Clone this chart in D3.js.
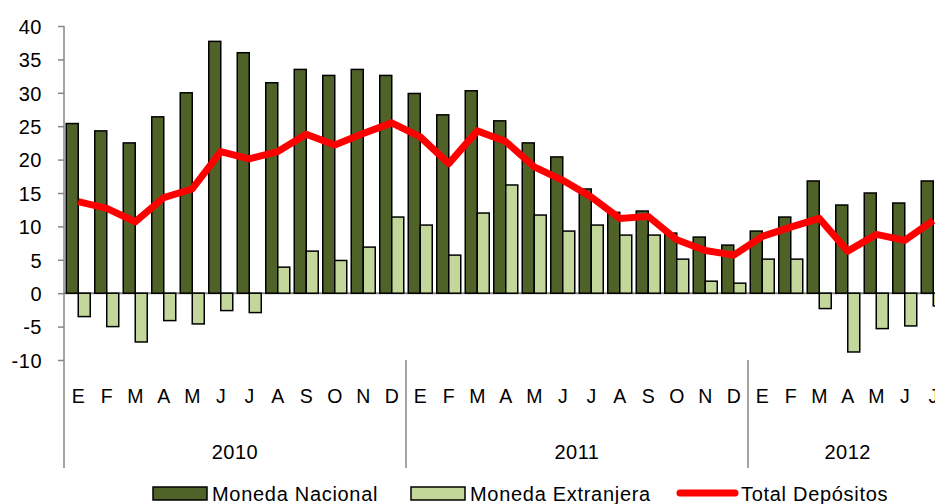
<!DOCTYPE html>
<html>
<head>
<meta charset="utf-8">
<script src="https://cdn.jsdelivr.net/npm/d3@7"></script>
<style>
  body { margin: 0; background: #fff; }
  text { font-family: "Liberation Sans", Arial, sans-serif; fill: #000; }
</style>
</head>
<body>
<div id="chart"></div>
<script>
// data (growth rates, %)
var years = ["2010", "2011", "2012"];
var monthLetters = ["E","F","M","A","M","J","J","A","S","O","N","D"];
var monthCounts = [12, 12, 7];

var nacional = [25.4,24.3,22.5,26.4,30.0,37.7,36.0,31.5,33.5,32.6,33.5,32.6,
                29.9,26.7,30.3,25.8,22.5,20.4,15.6,12.1,12.3,9.0,8.4,7.2,
                9.3,11.4,16.8,13.2,15.0,13.5,16.8];
var extranjera = [-3.5,-5.0,-7.3,-4.1,-4.6,-2.6,-2.9,3.9,6.3,4.9,6.9,11.4,
                  10.2,5.7,12.0,16.2,11.7,9.3,10.2,8.7,8.7,5.1,1.8,1.5,
                  5.1,5.1,-2.3,-8.8,-5.3,-4.9,-1.9];
var total = [13.7,12.7,10.7,14.3,15.6,21.2,20.1,21.2,23.8,22.2,23.9,25.5,
             23.4,19.4,24.3,22.7,18.9,16.9,14.4,11.2,11.5,8.0,6.4,5.7,
             8.5,9.9,11.2,6.3,8.8,7.9,10.9];
var yTicks = [-10,-5,0,5,10,15,20,25,30,35,40];
var seriesNames = ["Moneda Nacional", "Moneda Extranjera", "Total Depósitos"];

// build month list
var months = [];
years.forEach(function(y, i) {
  for (var m = 0; m < monthCounts[i]; m++) {
    months.push({ key: y + "-" + m, year: y, letter: monthLetters[m] });
  }
});

var width = 935, height = 504;
var colNac = "#4F6228", colExt = "#C4D79B", colTot = "#FF0000";

var svg = d3.select("#chart").append("svg")
  .attr("width", width)
  .attr("height", height);

var x = d3.scaleBand()
  .domain(months.map(function(d) { return d.key; }))
  .range([64, 64 + 28.5 * months.length])
  .padding(0);

var xSub = d3.scaleBand()
  .domain(["nac", "ext"])
  .range([0, x.bandwidth()])
  .paddingInner(0)
  .paddingOuter(0.1875);

var y = d3.scaleLinear()
  .domain([-10, 40])
  .range([360, 26]);

// zero line
svg.append("line")
  .attr("x1", 64).attr("x2", width)
  .attr("y1", y(0)).attr("y2", y(0))
  .style("stroke", "#868686")
  .style("stroke-width", 2);

// bars
function drawBars(vals, sub, color) {
  svg.append("g").selectAll("rect")
    .data(vals)
    .enter().append("rect")
    .attr("x", function(d, i) { return x(months[i].key) + xSub(sub); })
    .attr("width", xSub.bandwidth())
    .attr("y", function(d) { return y(Math.max(0, d)); })
    .attr("height", function(d) { return Math.abs(y(d) - y(0)); })
    .style("fill", color)
    .style("stroke", "#000")
    .style("stroke-width", 1.5);
}
drawBars(nacional, "nac", colNac);
drawBars(extranjera, "ext", colExt);

// total line
var line = d3.line()
  .x(function(d, i) { return x(months[i].key) + x.bandwidth() / 2; })
  .y(function(d) { return y(d); });

svg.append("path")
  .datum(total)
  .attr("d", line)
  .style("fill", "none")
  .style("stroke", colTot)
  .style("stroke-width", 7)
  .style("stroke-linejoin", "round");

// y axis
var yAxis = svg.append("g")
  .attr("transform", "translate(64,0)")
  .call(d3.axisLeft(y).tickValues(yTicks).tickSize(6).tickPadding(16)
    .tickFormat(function(d) { return String(d); }));
yAxis.select(".domain").remove();
yAxis.selectAll(".tick line").style("stroke", "#868686").style("stroke-width", 1.5);
yAxis.selectAll("text")
  .style("font-size", "20px")
  .style("font-family", "'Liberation Sans', Arial, sans-serif")
  .style("letter-spacing", "0.5px")
  .attr("dy", "0.36em");
svg.append("line")
  .attr("x1", 64).attr("x2", 64)
  .attr("y1", 26).attr("y2", 468)
  .style("stroke", "#868686")
  .style("stroke-width", 1.5);

// month letters
svg.append("g").selectAll("text")
  .data(months)
  .enter().append("text")
  .attr("x", function(d) { return x(d.key) + x.bandwidth() / 2; })
  .attr("y", 403)
  .attr("text-anchor", "middle")
  .style("font-size", "19.5px")
  .text(function(d) { return d.letter; });

// year separators and labels
var start = 0;
years.forEach(function(yr, i) {
  var x0 = x(months[start].key);
  var x1 = x0 + x.step() * monthCounts[i];
  if (i > 0) {
    svg.append("line")
      .attr("x1", x0).attr("x2", x0)
      .attr("y1", 360).attr("y2", 468)
      .style("stroke", "#868686")
      .style("stroke-width", 1.5);
  }
  var cx = i < years.length - 1 ? (x0 + x1) / 2 : x0 + x.step() * 3.5;
  svg.append("text")
    .attr("x", cx)
    .attr("y", 459)
    .attr("text-anchor", "middle")
    .style("font-size", "20px")
    .style("letter-spacing", "0.5px")
    .text(yr);
  start += monthCounts[i];
});

// legend
var legend = svg.append("g");
var legX = [153, 411, 680];
var legTextX = [212, 470, 741];
[colNac, colExt].forEach(function(c, i) {
  legend.append("rect")
    .attr("x", legX[i]).attr("y", 487)
    .attr("width", 54).attr("height", 13)
    .style("fill", c)
    .style("stroke", "#000")
    .style("stroke-width", 1.5);
});
legend.append("line")
  .attr("x1", legX[2]).attr("x2", legX[2] + 55)
  .attr("y1", 493).attr("y2", 493)
  .style("stroke", colTot)
  .style("stroke-width", 7)
  .style("stroke-linecap", "round");
seriesNames.forEach(function(n, i) {
  legend.append("text")
    .attr("x", legTextX[i])
    .attr("y", 501)
    .style("font-size", "20px")
    .style("letter-spacing", "0.7px")
    .text(n);
});
</script>
</body>
</html>
